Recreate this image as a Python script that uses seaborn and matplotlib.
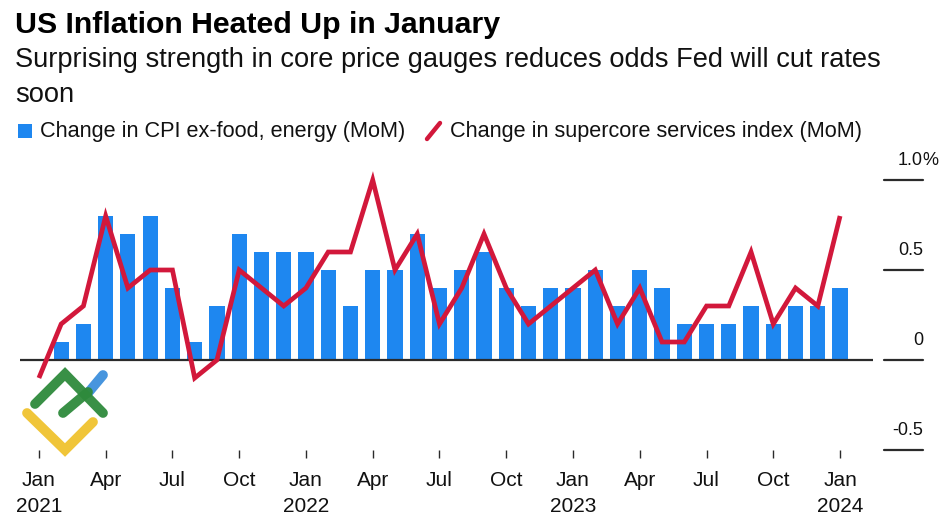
import numpy as np
import pandas as pd
import matplotlib
matplotlib.use("Agg")
import matplotlib.pyplot as plt
import matplotlib.transforms as mtransforms
from matplotlib.lines import Line2D
from matplotlib.patches import Rectangle
import seaborn as sns

# ---------------- data ----------------
months = pd.date_range("2021-01-01", "2024-01-01", freq="MS").strftime("%b %Y").tolist()
core_cpi = [0.0, 0.1, 0.2, 0.8, 0.7, 0.8, 0.4, 0.1, 0.3, 0.7, 0.6, 0.6,
            0.6, 0.5, 0.3, 0.5, 0.5, 0.7, 0.4, 0.5, 0.6, 0.4, 0.3, 0.4,
            0.4, 0.5, 0.3, 0.5, 0.4, 0.2, 0.2, 0.2, 0.3, 0.2, 0.3, 0.3,
            0.4]
supercore = [-0.1, 0.2, 0.3, 0.8, 0.4, 0.5, 0.5, -0.1, 0.0, 0.5, 0.4, 0.3,
             0.4, 0.6, 0.6, 1.0, 0.5, 0.7, 0.2, 0.4, 0.7, 0.4, 0.2, 0.3,
             0.4, 0.5, 0.2, 0.4, 0.1, 0.1, 0.3, 0.3, 0.6, 0.2, 0.4, 0.3,
             0.8]
x_tick_labels = ["Jan\n2021", "Apr", "Jul", "Oct", "Jan\n2022", "Apr", "Jul", "Oct",
                 "Jan\n2023", "Apr", "Jul", "Oct", "Jan\n2024"]
y_ticks = [-0.5, 0.0, 0.5, 1.0]
y_tick_labels = ["-0.5", "0", "0.5", "1.0"]

title = "US Inflation Heated Up in January"
subtitle_lines = ["Surprising strength in core price gauges reduces odds Fed will cut rates",
                  "soon"]
legend_labels = ["Change in CPI ex-food, energy (MoM)", "Change in supercore services index (MoM)"]

BLUE = "#1E87F0"
RED = "#D2183B"
DARK = "#2B2B2B"

# ---------------- style ----------------
sns.set_theme(style="white")
plt.rcParams["font.family"] = ["Liberation Sans", "DejaVu Sans"]

W, H = 951, 519
fig = plt.figure(figsize=(W / 100, H / 100), dpi=100)


def fx(x):
    return x / W


def fy(y):
    return 1 - y / H


ax = fig.add_axes([fx(20), 69 / H, 853 / W, 279 / H])

df = pd.DataFrame({"idx": np.arange(len(core_cpi)), "month": months,
                   "core": core_cpi, "super": supercore})

sns.barplot(data=df, x="idx", y="core", native_scale=True, color=BLUE,
            saturation=1, width=0.68, linewidth=0, errorbar=None, ax=ax, zorder=2)
sns.lineplot(data=df, x="idx", y="super", color=RED, linewidth=3.4, ax=ax,
             zorder=5, solid_joinstyle="miter", solid_capstyle="butt")

ax.axhline(0, color=DARK, linewidth=1.6, zorder=3)

ax.set_xlim(-0.85, 37.48)
ax.set_ylim(-0.5, 1.05)
for s in ax.spines.values():
    s.set_visible(False)
ax.set_xlabel("")
ax.set_ylabel("")
ax.set_yticks([])
ax.set_xticks(range(0, len(core_cpi), 3))
ax.set_xticklabels(x_tick_labels, fontsize=15, color="#111111", linespacing=1.5)
ax.tick_params(axis="x", bottom=True, length=6, width=1.0, color=DARK, pad=9)
ax.grid(False)

# right-side y labels with short rules
blend = mtransforms.blended_transform_factory(fig.transFigure, ax.transData)
for yv, lab in zip(y_ticks, y_tick_labels):
    ax.add_line(Line2D([fx(884), fx(923)], [yv, yv], transform=blend, color=DARK,
                       linewidth=1.6, clip_on=False))
    ax.text(fx(923), yv + 0.11, lab, transform=blend, ha="right", va="center",
            fontsize=13, color="#111111", clip_on=False)
    if yv == 1.0:
        ax.text(fx(922), yv + 0.11, "%", transform=blend, ha="left", va="center",
                fontsize=13, color="#111111", clip_on=False)

# titles
fig.text(fx(15), fy(33), title, fontsize=21.8, fontweight="bold", ha="left",
         va="baseline", color="#000000")
fig.text(fx(15), fy(67), subtitle_lines[0], fontsize=19.6, ha="left", va="baseline",
         color="#111111")
fig.text(fx(15), fy(102), subtitle_lines[1], fontsize=19.6, ha="left", va="baseline",
         color="#111111")

# legend
fig.add_artist(Rectangle((fx(18), fy(138)), 14 / W, 14 / H, transform=fig.transFigure,
                         color=BLUE, lw=0))
fig.text(fx(40), fy(131), legend_labels[0], fontsize=15.6, ha="left", va="center",
         color="#111111")
fig.add_artist(Line2D([fx(427), fx(440)], [fy(139), fy(123)], transform=fig.transFigure,
                      color=RED, linewidth=3.2))
fig.text(fx(450), fy(131), legend_labels[1], fontsize=15.6, ha="left", va="center",
         color="#111111")

# watermark logo
def stroke(pts, color):
    xs = [fx(p[0]) for p in pts]
    ys = [fy(p[1]) for p in pts]
    fig.add_artist(Line2D(xs, ys, transform=fig.transFigure, color=color,
                          linewidth=7, solid_capstyle="round",
                          solid_joinstyle="miter", alpha=0.95, zorder=10))

stroke([(88, 393), (103, 375)], "#3D8FDD")
stroke([(27, 413), (65, 450), (93, 422)], "#F0C22E")
stroke([(35, 404), (65, 374), (103, 413)], "#2E8A3C")
stroke([(63, 413), (88, 392)], "#2E8A3C")

fig.savefig("out.png", dpi=100)
